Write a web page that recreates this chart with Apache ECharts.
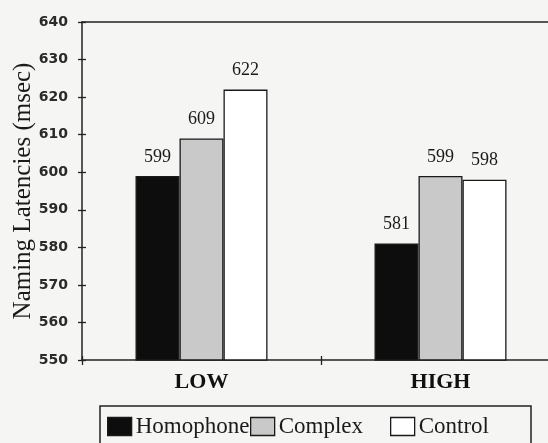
<!DOCTYPE html>
<html>
<head>
<meta charset="utf-8">
<script src="https://cdn.jsdelivr.net/npm/echarts@6/dist/echarts.min.js"></script>
<style>
html,body{margin:0;padding:0;background:#f5f5f3;}
#c{width:548px;height:443px;}
</style>
</head>
<body>
<div id="c"></div>
<script>
var categories = ['LOW', 'HIGH'];
var homophone = [599, 581];
var complex = [609, 599];
var control = [622, 598];
var yTicks = [550, 560, 570, 580, 590, 600, 610, 620, 630, 640];

var chart = echarts.init(document.getElementById('c'), null, {renderer: 'canvas'});
var ink = '#1a1a1a';
var serif = '"Liberation Serif", "DejaVu Serif", serif';

function legendAt(left, name, fill) {
  return {
    left: left, top: 415, padding: 0, itemGap: 0,
    itemWidth: 24, itemHeight: 18, icon: 'rect',
    selectedMode: false,
    textStyle: {fontFamily: serif, fontSize: 23, color: ink, padding: [0, 0, 0, -1]},
    data: [{name: name, itemStyle: {color: fill, borderColor: ink, borderWidth: 1.3}}]
  };
}

var labelCfg = {
  show: true, position: 'top', distance: 10,
  fontFamily: serif, fontSize: 18, color: ink
};

chart.setOption({
  backgroundColor: '#f5f5f3',
  animation: false,
  grid: {left: 82, top: 22, width: 478, height: 338, containLabel: false, outerBoundsMode: 'none'},
  graphic: [{
    type: 'rect', shape: {x: 100, y: 406, width: 431, height: 60},
    style: {fill: 'none', stroke: '#222', lineWidth: 1.5}, silent: true
  }],
  legend: [
    legendAt(107, 'Homophone', '#0d0d0d'),
    legendAt(250, 'Complex', '#c9c9c9'),
    legendAt(390, 'Control', '#ffffff')
  ],
  xAxis: [{
    type: 'category', data: categories, position: 'bottom',
    axisLine: {show: true, lineStyle: {color: '#222', width: 1.5}},
    axisTick: {show: true, length: 5, lineStyle: {color: '#222', width: 1.3}},
    axisLabel: {margin: 11, fontFamily: serif, fontWeight: 'bold', fontSize: 22, color: '#111'}
  }, {
    type: 'category', data: categories, position: 'top',
    axisLine: {show: true, lineStyle: {color: '#222', width: 1.5}},
    axisTick: {show: false}, axisLabel: {show: false}
  }, {
    type: 'category', data: categories, position: 'bottom', offset: -4,
    axisLine: {show: false},
    axisTick: {show: true, length: 4, lineStyle: {color: '#222', width: 1.3}},
    axisLabel: {show: false}
  }],
  yAxis: [{
    type: 'value', min: 550, max: 640, interval: 10, position: 'left',
    name: 'Naming Latencies (msec)', nameLocation: 'middle', nameGap: 46, nameMoveOverlap: false,
    nameTextStyle: {fontFamily: serif, fontSize: 25, color: ink},
    axisLine: {show: true, lineStyle: {color: '#222', width: 1.5}},
    axisTick: {show: true, length: 4, lineStyle: {color: '#222', width: 1.3}},
    axisLabel: {margin: 14, fontFamily: '"DejaVu Sans", sans-serif', fontWeight: 'bold', fontSize: 14, color: '#2a2a2a',
      formatter: function (v) { return yTicks.indexOf(v) >= 0 ? String(v) : ''; }},
    splitLine: {show: false}
  }, {
    type: 'value', min: 550, max: 640, interval: 10, position: 'left', offset: -4,
    axisLine: {show: false},
    axisTick: {show: true, length: 4, lineStyle: {color: '#222', width: 1.3}},
    axisLabel: {show: false}, splitLine: {show: false}
  }],
  series: [{
    name: 'Homophone', type: 'bar', data: homophone, barWidth: 44, barGap: '0%',
    itemStyle: {color: '#0d0d0d', borderColor: ink, borderWidth: 1.3},
    label: labelCfg
  }, {
    name: 'Complex', type: 'bar', data: complex, barWidth: 44, barGap: '0%',
    itemStyle: {color: '#c9c9c9', borderColor: ink, borderWidth: 1.3},
    label: labelCfg
  }, {
    name: 'Control', type: 'bar', data: control, barWidth: 44, barGap: '0%',
    itemStyle: {color: '#ffffff', borderColor: ink, borderWidth: 1.3},
    label: labelCfg
  }]
});
</script>
</body>
</html>
